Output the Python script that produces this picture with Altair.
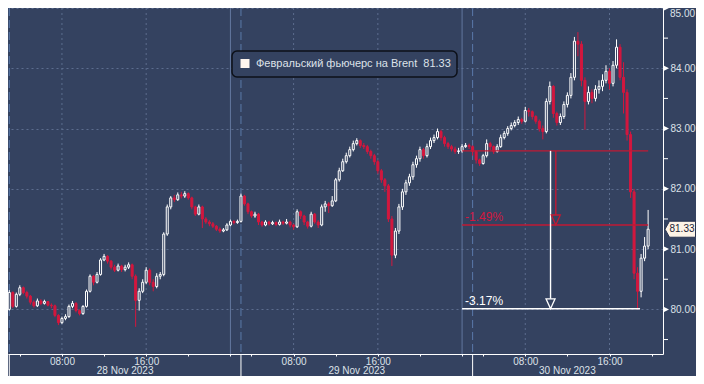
import altair as alt
import pandas as pd

# ---------------- data (20-minute bars, session hours from 28 Nov session start) ----------------
first_open = 80.00
close = [
    80.28, 80.05, 80.25, 80.36, 80.28, 80.22, 80.12, 80.06, 80.14, 80.10,
    80.13, 80.07, 80.06, 79.90, 79.78, 79.85, 79.88, 80.05, 80.10, 79.98,
    79.93, 80.05, 80.30, 80.55, 80.45, 80.58, 80.82, 80.88, 80.80, 80.70,
    80.65, 80.72, 80.66, 80.70, 80.74, 80.55, 80.15, 80.30, 80.45, 80.65,
    80.45, 80.38, 80.55, 80.58, 81.25, 81.70, 81.85, 81.82, 81.90, 81.88,
    81.92, 81.85, 81.70, 81.58, 81.70, 81.50, 81.45, 81.42, 81.38, 81.33,
    81.30, 81.32, 81.40, 81.46, 81.44, 81.46,
    81.88, 81.75, 81.62, 81.55, 81.58, 81.45, 81.40, 81.45, 81.42, 81.44,
    81.41, 81.45, 81.43, 81.45, 81.40, 81.37, 81.62, 81.55, 81.45, 81.38,
    81.58, 81.45, 81.40, 81.70, 81.75, 81.72, 81.80, 82.15, 82.30, 82.45,
    82.55, 82.65, 82.75, 82.80, 82.72, 82.70, 82.62, 82.55, 82.45, 82.30,
    82.15, 82.05, 81.50, 80.90, 81.30, 81.70, 81.95, 82.10, 82.20, 82.40,
    82.50, 82.65, 82.55, 82.70, 82.80, 82.85, 82.95, 82.85, 82.75, 82.70,
    82.66, 82.62, 82.63, 82.70, 82.72, 82.70,
    82.62, 82.48, 82.42, 82.55, 82.75, 82.70, 82.62, 82.70, 82.85, 82.92,
    83.00, 83.05, 83.10, 83.15, 83.12, 83.30, 83.28, 83.20, 83.12, 83.00,
    82.95, 83.45, 83.70, 83.25, 83.10, 83.20, 83.40, 83.55, 83.85, 84.45,
    84.40, 83.80, 83.45, 83.60, 83.50, 83.65, 83.70, 83.80, 83.95, 83.75,
    84.05, 84.35, 83.85, 83.60, 82.90, 81.95, 80.60, 80.30, 80.85, 81.05,
    81.33,
]
high = [
    80.32, 80.30, 80.28, 80.40, 80.38, 80.31, 80.24, 80.15, 80.18, 80.17,
    80.16, 80.14, 80.10, 80.08, 79.92, 79.88, 79.92, 80.08, 80.14, 80.12,
    80.00, 80.07, 80.33, 80.58, 80.57, 80.62, 80.85, 80.92, 80.90, 80.82,
    80.74, 80.76, 80.74, 80.74, 80.78, 80.76, 80.58, 80.35, 80.50, 80.70,
    80.68, 80.50, 80.60, 80.62, 81.28, 81.74, 81.88, 81.90, 81.94, 81.95,
    81.96, 81.94, 81.87, 81.72, 81.74, 81.72, 81.53, 81.48, 81.45, 81.40,
    81.36, 81.35, 81.43, 81.49, 81.48, 81.49,
    81.92, 81.90, 81.77, 81.64, 81.62, 81.60, 81.47, 81.48, 81.47, 81.47,
    81.46, 81.49, 81.47, 81.50, 81.47, 81.42, 81.66, 81.64, 81.57, 81.47,
    81.62, 81.60, 81.48, 81.74, 81.80, 81.78, 81.88, 82.18, 82.35, 82.50,
    82.60, 82.70, 82.80, 82.84, 82.82, 82.76, 82.73, 82.65, 82.58, 82.48,
    82.33, 82.18, 82.08, 81.55, 81.35, 81.75, 82.00, 82.15, 82.25, 82.45,
    82.55, 82.70, 82.68, 82.75, 82.85, 82.90, 83.00, 82.98, 82.88, 82.78,
    82.73, 82.70, 82.68, 82.74, 82.76, 82.75,
    82.72, 82.64, 82.50, 82.58, 82.82, 82.78, 82.72, 82.74, 82.90, 82.96,
    83.04, 83.10, 83.14, 83.20, 83.18, 83.36, 83.34, 83.30, 83.22, 83.15,
    83.05, 83.50, 83.78, 83.72, 83.28, 83.25, 83.45, 83.60, 83.92, 84.52,
    84.60, 84.45, 83.85, 83.70, 83.65, 83.72, 83.80, 83.90, 84.05, 84.00,
    84.12, 84.48, 84.40, 84.10, 83.65, 82.95, 82.00, 80.70, 80.92, 81.20,
    81.65,
]
low = [
    79.98, 80.02, 80.03, 80.22, 80.25, 80.18, 80.08, 80.03, 80.04, 80.07,
    80.08, 80.05, 80.02, 79.87, 79.74, 79.76, 79.82, 79.86, 80.02, 79.95,
    79.90, 79.91, 80.03, 80.28, 80.40, 80.43, 80.56, 80.80, 80.76, 80.66,
    80.62, 80.63, 80.62, 80.63, 80.67, 80.50, 79.71, 79.98, 80.27, 80.42,
    80.40, 80.30, 80.35, 80.50, 80.55, 81.22, 81.66, 81.78, 81.80, 81.84,
    81.85, 81.82, 81.66, 81.55, 81.56, 81.35, 81.42, 81.38, 81.35, 81.30,
    81.27, 81.28, 81.30, 81.38, 81.41, 81.42,
    81.44, 81.72, 81.58, 81.52, 81.52, 81.40, 81.37, 81.38, 81.39, 81.40,
    81.38, 81.39, 81.40, 81.41, 81.36, 81.32, 81.35, 81.50, 81.40, 81.34,
    81.36, 81.42, 81.35, 81.38, 81.62, 81.60, 81.70, 81.78, 82.12, 82.28,
    82.42, 82.52, 82.62, 82.72, 82.68, 82.66, 82.58, 82.50, 82.40, 82.25,
    82.10, 81.95, 81.45, 80.72, 80.85, 81.25, 81.65, 81.90, 82.05, 82.15,
    82.35, 82.45, 82.50, 82.52, 82.66, 82.76, 82.82, 82.80, 82.70, 82.66,
    82.62, 82.58, 82.58, 82.60, 82.68, 82.66,
    82.55, 82.42, 82.38, 82.40, 82.52, 82.64, 82.58, 82.60, 82.68, 82.82,
    82.88, 82.97, 83.02, 83.06, 83.08, 83.10, 83.20, 83.15, 83.08, 82.95,
    82.82, 82.92, 83.40, 83.18, 83.05, 83.06, 83.16, 83.35, 83.50, 83.80,
    84.20, 83.70, 82.98, 83.40, 83.42, 83.45, 83.58, 83.62, 83.75, 83.65,
    83.70, 84.00, 83.80, 83.25, 82.80, 81.85, 80.50, 80.00, 80.20, 80.80,
    81.00,
]

series_name = "Февральский фьючерс на Brent"

# axis content
y_levels = [80, 81, 82, 83, 84, 85]
y_minor = [79.5, 80.5, 81.5, 82.5, 83.5, 84.5]
x_ticks = [1, 5, 9, 13, 17, 21, 23, 27, 31, 35, 39, 43, 45, 49, 53, 57, 61]
x_tick_text = {5: "08:00", 13: "16:00", 27: "08:00", 35: "16:00", 49: "08:00", 57: "16:00"}
grid_t = [5, 13, 27, 35, 49, 57]
midnight_t = [21, 43]
day_start_t = [0, 22, 44]
day_labels = ["28 Nov 2023", "29 Nov 2023", "30 Nov 2023"]
day_label_t = [11, 33, 53]

# annotation (reference level and drops)
ref_level = 82.63
ann_start_t = 43.0
drop1_pct = -1.49
drop2_pct = -3.17
drop1_level = 81.40
drop2_level = 80.01
drop1_arrow_t = 51.9
drop2_arrow_t = 51.4
drop1_end_t = 60.67
drop2_end_t = 59.9

# ---------------- styling ----------------
BG = "#344260"
GRID = "#5c6d8e"
RED = "#d3173e"
RED_ANN = "#c01a34"
TXT = "#dde1e8"
FONT = "Liberation Sans"
W, H = 655, 346

opens = [first_open] + close[:-1]
df = pd.DataFrame({
    "t": [i / 3 for i in range(len(close))],
    "open": opens, "close": close, "high": high, "low": low,
})
df["dir"] = ["up" if c >= o else "down" for o, c in zip(df["open"], df["close"])]

xs = alt.Scale(domain=[-0.123, 62.08], nice=False, zero=False, padding=0)
ys = alt.Scale(domain=[79.26, 85.0], nice=False, zero=False, padding=0)

label_expr = "".join(
    f"datum.value == {k} ? '{v}' : " for k, v in x_tick_text.items()
) + "''"

top_level = max(y_levels)

x_axis = alt.Axis(
    values=x_ticks, labelExpr=label_expr, grid=False, title=None,
    domainColor="white", domainWidth=1, tickColor="white", tickSize=2,
    labelColor=TXT, labelFont=FONT, labelFontSize=10, labelPadding=0,
    labelOverlap=False, labelBound=False, labelFlush=False,
)
y_axis = alt.Axis(
    orient="right", values=y_levels, title=None,
    labelExpr=f"datum.value == {top_level} ? '' : format(datum.value, '.2f')",
    grid=True, gridColor=GRID, gridDash=[2, 3], gridWidth=1,
    domainColor="white", domainWidth=1, tickSize=0, labelPadding=7,
    labelColor=TXT, labelFont=FONT, labelFontSize=10,
)

one = pd.DataFrame({"k": [0]})

def tdf(vals):
    return pd.DataFrame({"t": vals})

vgrid = alt.Chart(tdf(grid_t)).mark_rule(color=GRID, strokeDash=[2, 3]).encode(
    x=alt.X("t:Q", scale=xs, axis=x_axis))
midn = alt.Chart(tdf(midnight_t)).mark_rule(color="#63779f", strokeWidth=1).encode(
    x=alt.X("t:Q", scale=xs))
dayline = alt.Chart(tdf(day_start_t)).mark_rule(color="#5a79aa", strokeDash=[8, 4]).encode(
    x=alt.X("t:Q", scale=xs))
daysep = alt.Chart(tdf(day_start_t)).mark_rule(color="white").encode(
    x=alt.X("t:Q", scale=xs), y=alt.value(H), y2=alt.value(H + 22))
daytext = alt.Chart(pd.DataFrame({"t": day_label_t, "lab": day_labels})).mark_text(
    font=FONT, fontSize=10, color=TXT, baseline="middle", align="center").encode(
    x=alt.X("t:Q", scale=xs), y=alt.value(H + 17), text="lab:N")

color_dir = alt.Color("dir:N", scale=alt.Scale(domain=["up", "down"], range=["#ffffff", RED]), legend=None)
fill_dir = alt.Fill("dir:N", scale=alt.Scale(domain=["up", "down"], range=[BG, RED]), legend=None)

base = alt.Chart(df)
wick = base.mark_rule(strokeWidth=1).encode(
    x=alt.X("t:Q", scale=xs),
    y=alt.Y("low:Q", scale=ys, axis=y_axis), y2="high:Q",
    color=color_dir,
)
body = base.mark_bar(size=2, strokeWidth=1).encode(
    x=alt.X("t:Q", scale=xs),
    y=alt.Y("open:Q", scale=ys), y2="close:Q",
    fill=fill_dir,
    stroke=alt.Stroke("dir:N", scale=alt.Scale(domain=["up", "down"], range=["#ffffff", RED]), legend=None),
)

hl = pd.DataFrame({
    "t1": [ann_start_t, ann_start_t, ann_start_t],
    "t2": [drop1_end_t, drop1_end_t, drop2_end_t],
    "y": [ref_level, drop1_level, drop2_level],
    "c": ["red", "red", "white"],
})
ann_color = alt.Color("c:N", scale=alt.Scale(domain=["red", "white"], range=[RED_ANN, "#ffffff"]), legend=None)
hlines = alt.Chart(hl).mark_rule(strokeWidth=1.4).encode(
    x=alt.X("t1:Q", scale=xs), x2="t2:Q", y=alt.Y("y:Q", scale=ys), color=ann_color)

vl = pd.DataFrame({
    "t": [drop1_arrow_t, drop2_arrow_t],
    "y1": [ref_level, ref_level],
    "y2": [drop1_level, drop2_level],
    "c": ["red", "white"],
})
vlines = alt.Chart(vl).mark_rule(strokeWidth=1.4).encode(
    x=alt.X("t:Q", scale=xs), y=alt.Y("y1:Q", scale=ys), y2="y2:Q", color=ann_color)
heads = alt.Chart(vl).mark_point(
    shape="M0,0 L-4.5,-10 L4.5,-10 Z", size=4, filled=True, fill=BG, strokeWidth=1.3, opacity=1).encode(
    x=alt.X("t:Q", scale=xs), y=alt.Y("y2:Q", scale=ys),
    stroke=alt.Stroke("c:N", scale=alt.Scale(domain=["red", "white"], range=[RED_ANN, "#ffffff"]), legend=None))

pct = pd.DataFrame({
    "t": [ann_start_t, ann_start_t],
    "y": [drop1_level, drop2_level],
    "lab": [f"{drop1_pct:.2f}%", f"{drop2_pct:.2f}%"],
    "c": ["red", "white"],
})
pct_text = alt.Chart(pct).mark_text(font=FONT, fontSize=12, align="left", baseline="bottom", dx=3, dy=-1).encode(
    x=alt.X("t:Q", scale=xs), y=alt.Y("y:Q", scale=ys), text="lab:N",
    color=alt.Color("c:N", scale=alt.Scale(domain=["red", "white"], range=[RED, "#ffffff"]), legend=None))

# right axis markers
tri = alt.Chart(pd.DataFrame({"y": y_levels})).mark_point(
    shape="M0,-3 L6,0 L0,3 Z", size=4, filled=True, color="white", opacity=1).encode(
    x=alt.value(W), y=alt.Y("y:Q", scale=ys))
minor = alt.Chart(pd.DataFrame({"y": y_minor})).mark_rule(color="white").encode(
    x=alt.value(W), x2=alt.value(W + 5), y=alt.Y("y:Q", scale=ys))
# top level label kept inside the drawing area
top_lab = alt.Chart(pd.DataFrame({"y": [top_level], "lab": [f"{top_level:.2f}"]})).mark_text(
    font=FONT, fontSize=10, color=TXT, align="left", baseline="top", dy=1).encode(
    x=alt.value(W + 7), y=alt.Y("y:Q", scale=ys), text="lab:N")

last_df = pd.DataFrame({"y": [close[-1]], "lab": [f"{close[-1]:.2f}"]})
last_box = alt.Chart(last_df).mark_point(
    shape="M-15.5,0 L-11,-8 L15,-8 L15,8 L-11,8 Z", size=4, filled=True, fill="#fdf3e6",
    stroke="#2a3450", strokeWidth=1, opacity=1).encode(
    x=alt.value(W + 17.5), y=alt.Y("y:Q", scale=ys))
last_text = alt.Chart(last_df).mark_text(font=FONT, fontSize=10, color="#1b2236", align="center", baseline="middle").encode(
    x=alt.value(W + 19), y=alt.Y("y:Q", scale=ys), text="lab:N")

# legend box
leg_box = alt.Chart(one).mark_rect(cornerRadius=5, fill=BG, stroke="#0c1019", strokeWidth=1.5).encode(
    x=alt.value(224), x2=alt.value(449), y=alt.value(43), y2=alt.value(69))
leg_sw = alt.Chart(one).mark_point(shape="square", size=81, filled=True, color="#fff6ee", opacity=1).encode(
    x=alt.value(237), y=alt.value(55.5))
leg_txt = alt.Chart(pd.DataFrame({"lab": [f"{series_name}\u00a0\u00a0{close[-1]:.2f}"]})).mark_text(
    font=FONT, fontSize=11, color=TXT, align="left", baseline="middle").encode(
    x=alt.value(248), y=alt.value(56), text="lab:N")

chart = alt.layer(
    vgrid, midn, dayline, daysep, daytext,
    wick, body,
    hlines, vlines, heads, pct_text,
    tri, minor, top_lab, last_box, last_text,
    leg_box, leg_sw, leg_txt,
).resolve_scale(color="independent", fill="independent", stroke="independent").properties(
    width=W, height=H, background=BG, autosize="none",
    padding={"left": 0, "top": 0, "right": 33, "bottom": 22},
).configure_view(strokeWidth=0, fill=BG)

chart.save("out.html", embed_options={"renderer": "svg", "actions": False})
